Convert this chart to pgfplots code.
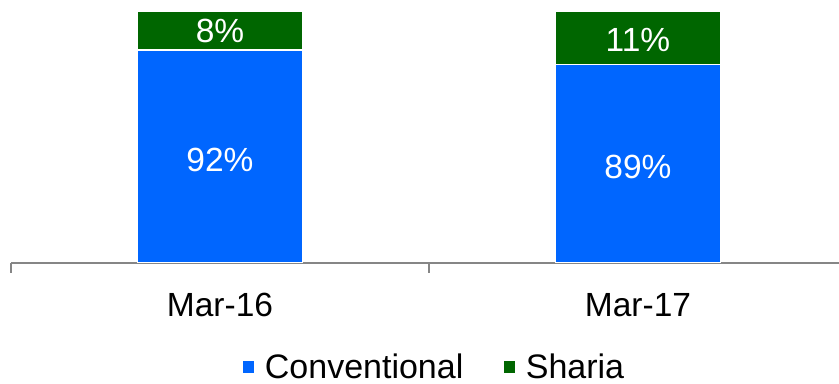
\documentclass[border=0pt]{standalone}
\usepackage{fontspec}
\setmainfont{Liberation Sans}
\usepackage{pgfplots}
\pgfplotsset{compat=1.18}
\usetikzlibrary{calc}
\definecolor{convblue}{HTML}{0066FF}
\definecolor{shagreen}{HTML}{006600}
\definecolor{axgray}{HTML}{868686}
\begin{document}
\begin{tikzpicture}
\begin{axis}[
  name=ax,
  scale only axis,
  width=828pt, height=252pt,
  xmin=-0.5, xmax=1.4809,
  ymin=48, ymax=100,
  axis x line*=bottom,
  axis y line=none,
  axis line style={axgray, line width=2.2pt},
  xtick={0,1},
  xticklabels={Mar-16,Mar-17},
  minor xtick={-0.5,0.5,1.5},
  major tick length=0pt,
  minor tick length=10pt,
  tick align=outside,
  minor tick style={axgray, line width=2.2pt},
  xticklabel style={font=\fontsize{33.5}{40}\selectfont, anchor=north, inner sep=0pt, yshift=-30pt},
  legend reversed=true,
  legend columns=2,
  legend style={draw=none, at={(0.51,-0.412)}, anchor=center, inner sep=0pt,
    nodes={inner sep=1pt},
    font=\fontsize{34}{40}\selectfont,
    /tikz/every odd column/.append style={column sep=8pt},
    /tikz/every even column/.append style={column sep=38pt}},
  legend image code/.code={\fill (0pt,-6.5pt) rectangle (13pt,6.5pt);},
]
% total (conventional + sharia) = 100
\addplot[ybar, bar width=165pt, bar shift=0pt, fill=shagreen, draw=white, line width=1.5pt]
  coordinates {(0,100) (1,100)};
\addlegendentry{Sharia}
\addplot[ybar, bar width=165pt, bar shift=0pt, fill=convblue, draw=white, line width=1.5pt]
  coordinates {(0,92) (1,89)};
\addlegendentry{Conventional}
\addplot[forget plot, draw=none, mark=none, nodes near coords, point meta=explicit symbolic,
  every node near coord/.style={anchor=center, text=white, font=\fontsize{33.5}{40}\selectfont}]
  coordinates {(0,69.3)[92\%] (1,67.8)[89\%] (0,95.9)[8\%] (1,94.0)[11\%]};
\end{axis}
\pgfresetboundingbox
\path[use as bounding box] ($(ax.south west)+(-11pt,-121pt)$) rectangle ($(ax.north east)+(0pt,11pt)$);
\end{tikzpicture}
\end{document}
